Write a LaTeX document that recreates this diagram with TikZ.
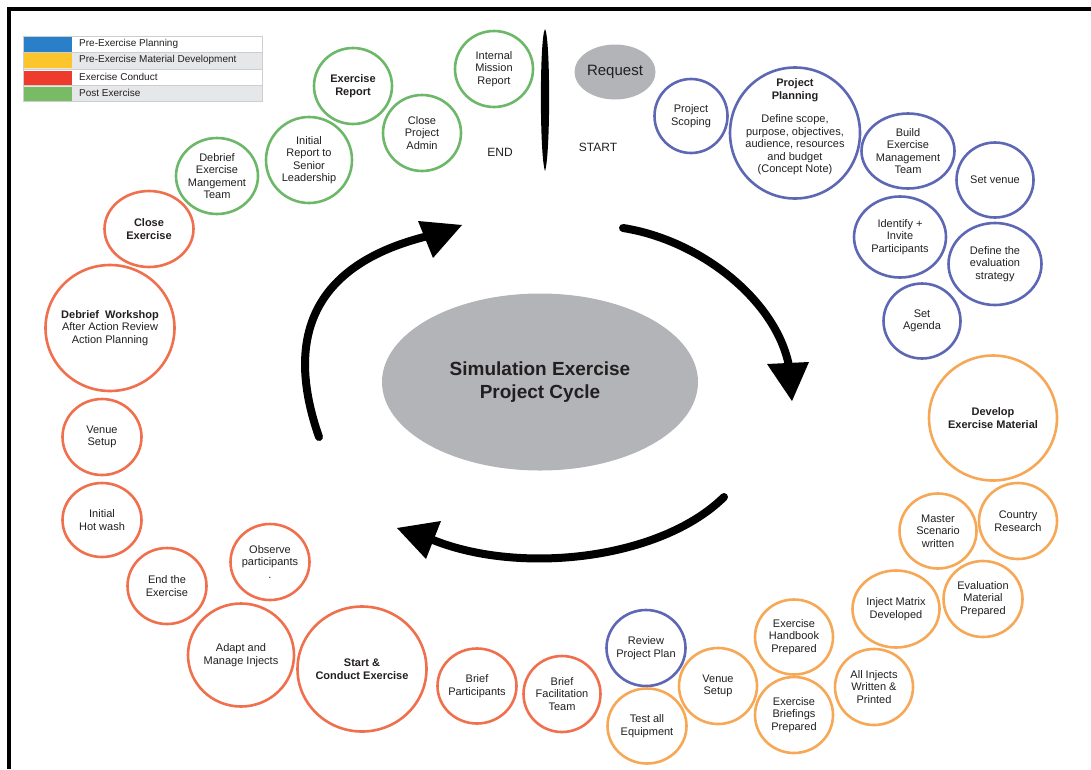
\documentclass[tikz,border=0pt]{standalone}
\usepackage{fontspec}
\setmainfont{Liberation Sans}
\usetikzlibrary{shapes.geometric}
\definecolor{cgreen}{RGB}{108,184,104}
\definecolor{cblue}{RGB}{93,103,180}
\definecolor{corange}{RGB}{246,168,86}
\definecolor{ccoral}{RGB}{240,112,78}
\definecolor{cgray}{RGB}{178,180,183}
\definecolor{ctext}{RGB}{35,31,32}
\definecolor{lgray}{RGB}{230,231,233}
\definecolor{lborder}{RGB}{205,206,208}
\definecolor{legblue}{RGB}{42,127,201}
\definecolor{legyellow}{RGB}{251,197,43}
\definecolor{legred}{RGB}{238,59,43}
\definecolor{leggreen}{RGB}{119,188,101}
\newcommand{\bub}[7]{%
  \node[bubshape, draw=#5, minimum width=#3pt, minimum height=#4pt] (#1) at (#2) {};
  \node[bubtext, #6] (#1-t) at (#1.center) {#7};}
\begin{document}
\begin{tikzpicture}[x=1pt,y=-1pt,
  bubshape/.style={ellipse, line width=2.6pt, inner sep=0pt, fill=white},
  bubtext/.style={align=center, inner sep=0pt, text=ctext, font=\fontsize{11}{12.5}\selectfont},
  bold/.style={font=\fontsize{11}{13}\selectfont\bfseries},
  legtext/.style={anchor=west, inner sep=0pt, text=ctext, font=\fontsize{10}{12}\selectfont},
  cyc/.style={line width=8pt, line cap=round, draw=black},
  headfill/.style={fill=black}]
\useasboundingbox (0,0) rectangle (1091,769);
% frame
\draw[line width=4pt, line join=miter] (8.7,769) -- (8.7,9.3) -- (1091,9.3);
% legend
\fill[white] (23,36) rectangle (262,52);
\fill[lgray] (23,52) rectangle (262,69);
\fill[white] (23,69) rectangle (262,85);
\fill[lgray] (23,85) rectangle (262,101);
\draw[lborder, line width=0.6pt] (23,36) rectangle (262,101);
\draw[lborder, line width=0.6pt] (23,52) -- (262,52) (23,69) -- (262,69) (23,85) -- (262,85);
\fill[legblue] (24,37) rectangle (72,51.5);
\fill[legyellow] (24,53) rectangle (72,68);
\fill[legred] (24,70.5) rectangle (72,84.5);
\fill[leggreen] (24,86.5) rectangle (72,100.5);
\node[legtext] (l1) at (79,44) {Pre-Exercise Planning};
\node[legtext] (l2) at (79,60) {Pre-Exercise Material Development};
\node[legtext] (l3) at (79,77) {Exercise Conduct};
\node[legtext] (l4) at (79,92.5) {Post Exercise};
% start/end bar
\fill[black] (545,29) .. controls (550.5,38) and (550.5,155) .. (545,171) .. controls (539.5,155) and (539.5,38) .. (545,29);
\node[text=ctext, font=\fontsize{12}{14}\selectfont, inner sep=0pt] (endlbl) at (500,152) {END};
\node[text=ctext, font=\fontsize{12}{14}\selectfont, inner sep=0pt] (startlbl) at (598,147) {START};
\node[ellipse, fill=cgray, minimum width=81pt, minimum height=55pt, inner sep=0pt, text=ctext, font=\fontsize{15}{17}\selectfont] (req) at (615,72) {Request};
% centre
\node[ellipse, fill=cgray, minimum width=316pt, minimum height=177pt, inner sep=0pt, align=center, text=ctext, font=\fontsize{19}{23}\selectfont\bfseries] (centre) at (540,382) {Simulation Exercise\\Project Cycle};
% cycle arrows
\coordinate (a1s) at (623,228); \coordinate (a1e) at (789,366);
\draw[cyc] (a1s) .. controls (700,240) and (776,300) .. (a1e);
\fill[headfill] (767,364) -- (809,362) -- (792,401) -- cycle;
\coordinate (a2s) at (724,497); \coordinate (a2e) at (433,540);
\draw[cyc] (a2s) .. controls (660,560) and (520,575) .. (a2e);
\fill[headfill] (397,528) -- (441,521) -- (426,559) -- cycle;
\coordinate (a3s) at (319,437); \coordinate (a3e) at (428,236);
\draw[cyc] (a3s) .. controls (285,340) and (310,265) .. (a3e);
\fill[headfill] (418,221) -- (462,225) -- (433,258) -- cycle;
% post exercise (green)
\bub{imr}{494,69}{78}{76}{cgreen}{}{Internal\\Mission\\Report}
\bub{exrep}{353,86}{78}{76}{cgreen}{bold}{Exercise\\Report}
\bub{cpa}{422,133}{78}{76}{cgreen}{}{Close\\Project\\Admin}
\bub{irsl}{309,160}{86}{86}{cgreen}{}{Initial\\Report to\\Senior\\Leadership}
\bub{demt}{217,176}{82}{76}{cgreen}{}{Debrief\\Exercise\\Mangement\\Team}
% planning (blue)
\bub{ps}{691,116}{73}{74}{cblue}{}{Project\\Scoping}
\node[bubshape, draw=cblue, minimum width=130pt, minimum height=131pt] (pp) at (795,133) {};
\node[bubtext] (pp-t) at (795,127) {\textbf{Project}\\\textbf{Planning}\\[11pt]Define scope,\\purpose, objectives,\\audience, resources\\and budget\\(Concept Note)};
\bub{bemt}{908,151}{93}{75}{cblue}{}{Build\\Exercise\\Management\\Team}
\bub{sv}{995,180}{77}{75}{cblue}{}{Set venue}
\bub{iip}{900,237}{92}{81}{cblue}{}{Identify +\\Invite\\Participants}
\bub{des}{995,264}{93}{82}{cblue}{}{Define the\\evaluation\\strategy}
\bub{sa}{922,321}{77}{75}{cblue}{}{Set\\Agenda}
% material development (orange)
\bub{dem}{993,418}{128}{125}{corange}{bold}{Develop\\Exercise Material}
\bub{msw}{938,531}{77}{75}{corange}{}{Master\\Scenario\\written}
\bub{cr}{1018,521}{78}{76}{corange}{}{Country\\Research}
\bub{emp}{983,599}{79}{76}{corange}{}{Evaluation\\Material\\Prepared}
\bub{imd}{896,609}{87}{77}{corange}{}{Inject Matrix\\Developed}
\bub{aiw}{874,687}{78}{76}{corange}{}{All Injects\\Written \&\\Printed}
\bub{ehp}{794,637}{78}{75}{corange}{}{Exercise\\Handbook\\Prepared}
\bub{ebp}{794,715}{78}{76}{corange}{}{Exercise\\Briefings\\Prepared}
\bub{vs2}{718,686}{78}{76}{corange}{}{Venue\\Setup}
\bub{rpp}{646,648}{79}{76}{cblue}{}{Review\\Project Plan}
\bub{tae}{647,726}{79}{75}{corange}{}{Test all\\Equipment}
% conduct (coral)
\bub{bft}{562,694}{77}{76}{ccoral}{}{Brief\\Facilitation\\Team}
\bub{bp}{477,686}{79}{75}{ccoral}{}{Brief\\Participants}
\bub{sce}{362,669}{129}{125}{ccoral}{bold}{Start \&\\Conduct Exercise}
\bub{ami}{241,655}{106}{103}{ccoral}{}{Adapt and\\Manage Injects}
\bub{op}{270,562}{79}{76}{ccoral}{}{Observe\\participants\\.}
\bub{ete}{167,586}{79}{76}{ccoral}{}{End the\\Exercise}
\bub{ihw}{102,520}{79}{74}{ccoral}{}{Initial\\Hot wash}
\bub{vs1}{102,437}{79}{76}{ccoral}{}{Venue\\Setup}
\node[bubshape, draw=ccoral, minimum width=129pt, minimum height=126pt] (dw) at (110,328) {};
\node[bubtext] (dw-t) at (dw.center) {\textbf{Debrief\ \ Workshop}\\After Action Review\\Action Planning};
\bub{ce}{149,229}{89}{76}{ccoral}{bold}{Close\\Exercise}
\end{tikzpicture}
\end{document}
